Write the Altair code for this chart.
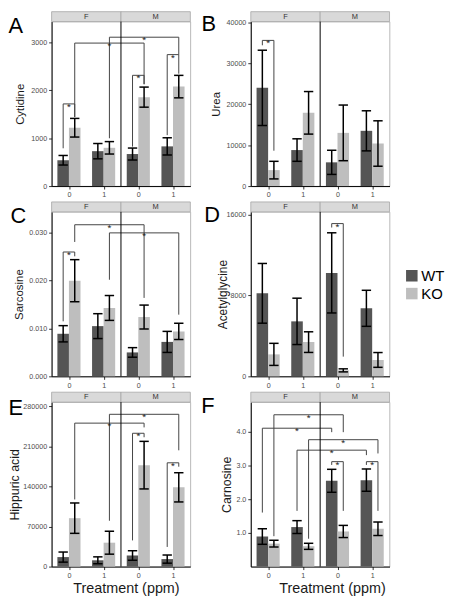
import altair as alt
import pandas as pd

FONT = "Liberation Sans"
genotypes = ["WT", "KO"]
bar_colors = ["#555555", "#bebebe"]
strip_labels = ["F", "M"]
treat_labels = ["0", "1"]

# bar order: F0 WT, F0 KO, F1 WT, F1 KO, M0 WT, M0 KO, M1 WT, M1 KO
cyt_mean = [540, 1220, 730, 800, 670, 1860, 830, 2080]
cyt_se = [100, 195, 160, 130, 125, 210, 180, 235]
cyt_br = [(0, 1, 1718, 790, 1443), (1, 5, 2990, 1443, 2130), (3, 7, 3113, 1000, 2749),
          (4, 5, 2316, 825, 2130), (6, 7, 2749, 1065, 2350)]

urea_mean = [24000, 3900, 8800, 17900, 5800, 13000, 13500, 10400]
urea_se = [9200, 2150, 2750, 5200, 2950, 6800, 4900, 5550]
urea_br = [(0, 1, 35600, 34400, 8640)]

sar_mean = [0.0089, 0.0200, 0.0105, 0.0143, 0.0050, 0.0124, 0.0072, 0.0094]
sar_se = [0.0017, 0.0044, 0.0026, 0.0026, 0.0010, 0.0025, 0.0022, 0.0017]
sar_br = [(0, 1, 0.0260, 0.0115, 0.0251), (1, 5, 0.0317, 0.0281, 0.0164), (3, 7, 0.0300, 0.0202, 0.0129)]

ace_mean = [8200, 2170, 5430, 3380, 10220, 590, 6720, 1620]
ace_se = [2950, 1090, 2290, 1020, 3960, 150, 1780, 730]
ace_br = [(4, 5, 15089, 14700, 1947)]

hip_mean = [16600, 84500, 11000, 41700, 19400, 177000, 13100, 138300]
hip_se = [8800, 26500, 6000, 20000, 8300, 41500, 7100, 25500]
hip_br = [(1, 5, 250300, 117100, 242900), (3, 7, 265700, 80000, 202900),
          (4, 5, 232600, 45700, 225700), (6, 7, 181100, 34300, 174300)]

car_mean = [0.89, 0.68, 1.17, 0.60, 2.54, 1.04, 2.56, 1.12]
car_se = [0.23, 0.10, 0.19, 0.09, 0.34, 0.18, 0.33, 0.20]
car_br = [(1, 5, 4.495, 0.90, 3.98), (0, 4, 4.097, 1.60, 3.98), (3, 7, 3.757, 0.825, 3.35),
          (2, 6, 3.447, 1.65, 3.30), (4, 5, 3.107, 3.01, 1.65), (6, 7, 3.107, 3.01, 1.65)]

W, H = 140, 166
BW = 1 / 3
CAP = 0.27
STRIP = 10


def make_panel(letter, lxy, ytitle, tsize, tx, mean, se, brackets, ymax, yticks, yfmt,
               xtitle=None, xtitle_x=None, legend=False):
    rows = []
    for i, (m, s) in enumerate(zip(mean, se)):
        g, k = i // 2, i % 2
        xc = g + 0.5 + (k - 0.5) * BW
        rows.append({"geno": genotypes[k], "mean": m, "lo": m - s, "hi": m + s,
                     "xc": xc, "xl": xc - BW / 2, "xr": xc + BW / 2,
                     "cl": xc - CAP / 2, "cr": xc + CAP / 2})
    bars = pd.DataFrame(rows)
    seg, stars = [], []
    for a, b, top, ea, eb in brackets:
        xa, xb = bars.xc[a], bars.xc[b]
        seg += [{"x": xa, "x2": xa, "y": ea, "y2": top},
                {"x": xb, "x2": xb, "y": eb, "y2": top},
                {"x": xa, "x2": xb, "y": top, "y2": top}]
        stars.append({"x": (xa + xb) / 2, "y": top})
    seg = pd.DataFrame(seg)
    stars = pd.DataFrame(stars)
    strips = pd.DataFrame({"s": strip_labels, "x0": [0, 2], "x1": [2, 4], "xm": [1, 3]})

    xs = alt.Scale(domain=[0, 4], nice=False, zero=False)
    ys = alt.Scale(domain=[0, ymax], nice=False, zero=True)
    label_expr = "(datum.value % 2) < 1 ? '" + treat_labels[0] + "' : '" + treat_labels[1] + "'"
    xkw = dict(values=[0.5, 1.5, 2.5, 3.5], labelExpr=label_expr,
               title=xtitle if xtitle else None, titleFontSize=14.5, titlePadding=3)
    if xtitle_x is not None:
        xkw["titleX"] = xtitle_x
    xaxis = alt.Axis(**xkw)
    yaxis = alt.Axis(values=yticks, format=yfmt, title=ytitle, titleFontSize=tsize,
                     titleX=tx, titleBaseline="middle")
    if legend:
        leg = alt.Legend(orient="none", legendX=155, legendY=57, title=None, symbolType="square",
                         symbolSize=135, symbolStrokeWidth=0, labelFontSize=15, labelFont=FONT,
                         labelColor="black", rowPadding=2, labelOffset=2)
    else:
        leg = None

    def X(f):
        return alt.X(f, scale=xs, axis=xaxis)

    def Y(f):
        return alt.Y(f, scale=ys, axis=yaxis)

    strip = alt.Chart(strips).mark_rect(fill="#d9d9d9", stroke="#a6a6a6", strokeWidth=0.8).encode(
        x=X("x0:Q"), x2="x1", y=alt.value(-STRIP), y2=alt.value(0))
    strip_t = alt.Chart(strips).mark_text(fontSize=7.5, font=FONT, color="#333333", baseline="middle").encode(
        x=X("xm:Q"), y=alt.value(-STRIP / 2), text="s:N")
    bar = alt.Chart(bars).mark_bar().encode(
        x=X("xl:Q"), x2="xr", y=Y("mean:Q"), y2=alt.datum(0),
        color=alt.Color("geno:N", scale=alt.Scale(domain=genotypes, range=bar_colors), legend=leg))
    err = alt.Chart(bars).mark_rule(color="black", strokeWidth=1.5).encode(
        x=X("xc:Q"), y=Y("lo:Q"), y2="hi")
    cap_hi = alt.Chart(bars).mark_rule(color="black", strokeWidth=1.5).encode(
        x=X("cl:Q"), x2="cr", y=Y("hi:Q"))
    cap_lo = alt.Chart(bars).mark_rule(color="black", strokeWidth=1.5).encode(
        x=X("cl:Q"), x2="cr", y=Y("lo:Q"))
    br = alt.Chart(seg).mark_rule(color="#444444", strokeWidth=1).encode(
        x=X("x:Q"), x2="x2", y=Y("y:Q"), y2="y2")
    st = alt.Chart(stars).mark_text(text="*", fontSize=10, font=FONT, color="#222222", dy=3).encode(
        x=X("x:Q"), y=Y("y:Q"))
    divider = alt.Chart(strips.head(1)).mark_rule(color="black", strokeWidth=1).encode(
        x=X("x1:Q"), y=alt.value(0), y2=alt.value(H))
    lett = alt.Chart(pd.DataFrame({"t": [letter]})).mark_text(
        fontSize=22, font=FONT, align="left", baseline="alphabetic", color="black").encode(
        text="t:N", x=alt.value(lxy[0]), y=alt.value(lxy[1]))
    return alt.layer(bar, strip, strip_t, err, cap_hi, cap_lo, br, st, divider, lett).properties(
        width=W, height=H)


A = make_panel("A", (-43.5, 12), "Cytidine", 11.5, -31.5, cyt_mean, cyt_se, cyt_br, 3440,
               [0, 1000, 2000, 3000], "d")
B = make_panel("B", (-49.7, 10), "Urea", 11.5, -35, urea_mean, urea_se, urea_br, 40200,
               [0, 10000, 20000, 30000, 40000], "d")
C = make_panel("C", (-41.5, 11), "Sarcosine", 11.5, -32.5, sar_mean, sar_se, sar_br, 0.0344,
               [0, 0.01, 0.02, 0.03], ".3f")
D = make_panel("D", (-47, 10), "Acetylglycine", 12, -28, ace_mean, ace_se, ace_br, 16250,
               [0, 8000, 16000], "d", legend=True)
E = make_panel("E", (-43.5, 13), "Hippuric acid", 12.5, -37.5, hip_mean, hip_se, hip_br, 287000,
               [0, 70000, 140000, 210000, 280000], "d", xtitle="Treatment (ppm)", xtitle_x=75)
F = make_panel("F", (-50, 11), "Carnosine", 12.5, -24, car_mean, car_se, car_br, 4.87,
               [1, 2, 3, 4], ".1f", xtitle="Treatment (ppm)", xtitle_x=82)

chart = alt.concat(A, B, C, D, E, F, columns=2, bounds="flush",
                   spacing={"row": 26, "column": 61}).resolve_scale(color="independent").properties(
    padding={"left": 0, "top": 0, "right": 0, "bottom": 0}
).configure_view(stroke="#a6a6a6", strokeWidth=0.8).configure_axis(
    labelFont=FONT, titleFont=FONT, labelFontSize=7.2, labelColor="#4d4d4d",
    tickColor="#333333", tickSize=3, domainColor="black", domainWidth=1, grid=False,
    titleFontWeight="normal", titleColor="#1a1a1a", labelPadding=2)

chart.save("out.html", embed_options={"renderer": "svg", "actions": False})
